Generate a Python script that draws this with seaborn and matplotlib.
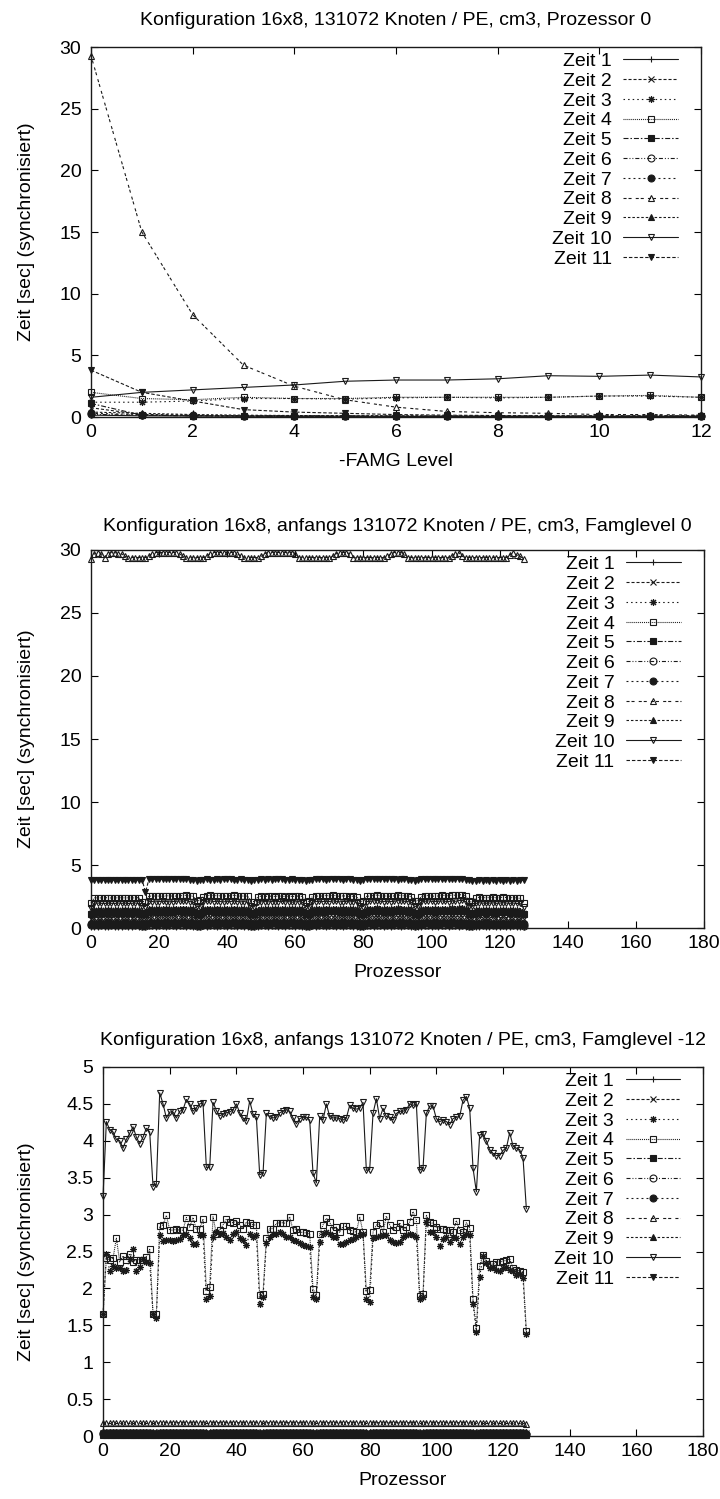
import matplotlib
matplotlib.use('Agg')
from matplotlib import pyplot as plt
from matplotlib.ticker import FuncFormatter
import seaborn as sns

sns.set_theme(context='paper', style='ticks')
plt.rcParams['font.family'] = ['Liberation Sans', 'DejaVu Sans']
plt.rcParams['lines.scale_dashes'] = False
plt.rcParams['text.color'] = 'black'
plt.rcParams['axes.labelcolor'] = 'black'
plt.rcParams['xtick.color'] = 'black'
plt.rcParams['ytick.color'] = 'black'
plt.rcParams['axes.edgecolor'] = 'black'

labels = ['Zeit %d' % i for i in range(1, 12)]

#panel 1: processor 0 over FAMG level
levels = [0, 1, 2, 3, 4, 5, 6, 7, 8, 9, 10, 11, 12]
p1_z1 = [0.15, 0.1, 0.08, 0.07, 0.06, 0.06, 0.05, 0.05, 0.05, 0.05, 0.05, 0.05, 0.05]
p1_z2 = [0.75, 0.2, 0.12, 0.09, 0.08, 0.07, 0.06, 0.06, 0.05, 0.05, 0.05, 0.05, 0.05]
p1_z3 = [1.2, 1.2, 1.3, 1.5, 1.5, 1.45, 1.55, 1.6, 1.55, 1.6, 1.7, 1.7, 1.6]
p1_z4 = [2.0, 1.5, 1.4, 1.6, 1.5, 1.5, 1.6, 1.6, 1.6, 1.6, 1.7, 1.75, 1.6]
p1_z5 = [1.1, 0.15, 0.1, 0.08, 0.07, 0.06, 0.05, 0.05, 0.05, 0.05, 0.05, 0.05, 0.05]
p1_z6 = [0.22, 0.15, 0.1, 0.08, 0.07, 0.06, 0.06, 0.05, 0.05, 0.05, 0.05, 0.05, 0.05]
p1_z7 = [0.3, 0.2, 0.15, 0.1, 0.08, 0.07, 0.06, 0.06, 0.05, 0.05, 0.05, 0.05, 0.05]
p1_z8 = [29.3, 15.0, 8.3, 4.2, 2.5, 1.4, 0.8, 0.45, 0.35, 0.3, 0.2, 0.2, 0.15]
p1_z9 = [0.4, 0.3, 0.2, 0.15, 0.12, 0.1, 0.1, 0.08, 0.08, 0.08, 0.08, 0.08, 0.08]
p1_z10 = [1.6, 2.0, 2.2, 2.4, 2.6, 2.9, 3.0, 3.0, 3.1, 3.35, 3.3, 3.4, 3.25]
p1_z11 = [3.8, 2.0, 1.3, 0.6, 0.4, 0.3, 0.2, 0.15, 0.12, 0.1, 0.1, 0.1, 0.1]

procs = list(range(128))

#panel 2: famglevel 0 over processors
p2_z1 = [0.1, 0.12, 0.12, 0.13, 0.12, 0.12, 0.13, 0.12, 0.12, 0.12, 0.13, 0.12, 0.12, 0.13, 0.12, 0.1,
         0.1, 0.13, 0.13, 0.12, 0.13, 0.13, 0.12, 0.13, 0.13, 0.12, 0.13, 0.13, 0.12, 0.13, 0.12, 0.1,
         0.1, 0.13, 0.12, 0.13, 0.13, 0.12, 0.13, 0.13, 0.12, 0.13, 0.13, 0.12, 0.13, 0.12, 0.12, 0.1,
         0.1, 0.12, 0.13, 0.13, 0.12, 0.13, 0.13, 0.12, 0.13, 0.12, 0.13, 0.13, 0.12, 0.13, 0.12, 0.1,
         0.1, 0.13, 0.12, 0.13, 0.13, 0.12, 0.13, 0.13, 0.12, 0.13, 0.12, 0.13, 0.13, 0.12, 0.12, 0.1,
         0.1, 0.13, 0.13, 0.12, 0.13, 0.13, 0.12, 0.13, 0.12, 0.13, 0.13, 0.12, 0.13, 0.13, 0.12, 0.1,
         0.1, 0.12, 0.13, 0.13, 0.12, 0.13, 0.12, 0.13, 0.13, 0.12, 0.13, 0.13, 0.12, 0.13, 0.12, 0.1,
         0.1, 0.12, 0.12, 0.13, 0.12, 0.12, 0.13, 0.12, 0.12, 0.13, 0.12, 0.12, 0.13, 0.12, 0.12, 0.1]
p2_z2 = [0.75, 0.82, 0.83, 0.82, 0.83, 0.82, 0.83, 0.82, 0.83, 0.82, 0.83, 0.82, 0.83, 0.82, 0.82, 0.72,
         0.7, 0.86, 0.87, 0.86, 0.87, 0.86, 0.87, 0.88, 0.86, 0.87, 0.88, 0.87, 0.88, 0.86, 0.85, 0.72,
         0.72, 0.86, 0.87, 0.88, 0.86, 0.87, 0.86, 0.87, 0.88, 0.86, 0.88, 0.87, 0.86, 0.87, 0.85, 0.72,
         0.7, 0.85, 0.86, 0.87, 0.86, 0.87, 0.86, 0.88, 0.87, 0.86, 0.87, 0.86, 0.87, 0.88, 0.85, 0.72,
         0.7, 0.86, 0.87, 0.88, 0.87, 0.88, 0.87, 0.89, 0.88, 0.86, 0.87, 0.86, 0.86, 0.87, 0.85, 0.72,
         0.72, 0.86, 0.88, 0.88, 0.9, 0.88, 0.87, 0.88, 0.86, 0.88, 0.9, 0.89, 0.87, 0.86, 0.85, 0.72,
         0.73, 0.86, 0.88, 0.88, 0.87, 0.86, 0.88, 0.89, 0.88, 0.87, 0.9, 0.89, 0.9, 0.91, 0.87, 0.73,
         0.7, 0.82, 0.84, 0.83, 0.82, 0.83, 0.84, 0.82, 0.83, 0.84, 0.83, 0.82, 0.83, 0.82, 0.81, 0.72]
p2_z3 = [1.2, 1.4, 1.42, 1.4, 1.41, 1.4, 1.42, 1.41, 1.4, 1.42, 1.41, 1.4, 1.42, 1.41, 1.4, 1.28,
         1.25, 1.48, 1.5, 1.49, 1.5, 1.48, 1.5, 1.51, 1.49, 1.5, 1.52, 1.5, 1.53, 1.5, 1.48, 1.28,
         1.28, 1.48, 1.51, 1.53, 1.5, 1.52, 1.5, 1.49, 1.51, 1.5, 1.53, 1.5, 1.48, 1.5, 1.48, 1.26,
         1.25, 1.47, 1.49, 1.5, 1.49, 1.5, 1.49, 1.51, 1.5, 1.49, 1.5, 1.48, 1.5, 1.51, 1.48, 1.26,
         1.25, 1.49, 1.5, 1.52, 1.5, 1.53, 1.51, 1.54, 1.52, 1.5, 1.51, 1.5, 1.49, 1.5, 1.48, 1.27,
         1.27, 1.5, 1.52, 1.53, 1.55, 1.52, 1.5, 1.52, 1.5, 1.52, 1.55, 1.53, 1.51, 1.5, 1.48, 1.28,
         1.28, 1.49, 1.52, 1.53, 1.52, 1.5, 1.52, 1.54, 1.53, 1.52, 1.55, 1.54, 1.56, 1.57, 1.52, 1.29,
         1.25, 1.4, 1.44, 1.42, 1.41, 1.42, 1.43, 1.41, 1.42, 1.43, 1.42, 1.41, 1.42, 1.4, 1.39, 1.22]
p2_z4 = [2.0, 2.38, 2.4, 2.39, 2.41, 2.4, 2.38, 2.39, 2.4, 2.41, 2.39, 2.4, 2.38, 2.4, 2.41, 2.1,
         2.1, 2.52, 2.55, 2.53, 2.54, 2.52, 2.55, 2.56, 2.53, 2.54, 2.58, 2.56, 2.6, 2.55, 2.52, 2.15,
         2.2, 2.5, 2.56, 2.6, 2.55, 2.58, 2.55, 2.53, 2.55, 2.56, 2.6, 2.55, 2.52, 2.55, 2.53, 2.1,
         2.1, 2.48, 2.52, 2.5, 2.53, 2.52, 2.5, 2.54, 2.52, 2.5, 2.53, 2.5, 2.52, 2.54, 2.5, 2.1,
         2.12, 2.5, 2.52, 2.55, 2.53, 2.58, 2.55, 2.6, 2.56, 2.52, 2.55, 2.54, 2.5, 2.52, 2.5, 2.1,
         2.15, 2.52, 2.55, 2.58, 2.62, 2.55, 2.53, 2.55, 2.52, 2.55, 2.62, 2.58, 2.55, 2.53, 2.5, 2.12,
         2.18, 2.5, 2.55, 2.58, 2.55, 2.52, 2.55, 2.6, 2.58, 2.55, 2.62, 2.6, 2.63, 2.65, 2.55, 2.12,
         2.05, 2.38, 2.45, 2.42, 2.4, 2.42, 2.44, 2.4, 2.42, 2.44, 2.42, 2.4, 2.42, 2.38, 2.36, 2.0]
p2_z5 = [1.1, 1.22, 1.24, 1.22, 1.23, 1.22, 1.24, 1.22, 1.23, 1.22, 1.24, 1.23, 1.22, 1.24, 1.22, 1.12,
         1.1, 1.3, 1.32, 1.3, 1.31, 1.3, 1.32, 1.31, 1.3, 1.32, 1.33, 1.31, 1.34, 1.31, 1.3, 1.14,
         1.12, 1.3, 1.32, 1.34, 1.31, 1.33, 1.31, 1.3, 1.32, 1.31, 1.34, 1.31, 1.3, 1.31, 1.3, 1.12,
         1.1, 1.28, 1.3, 1.31, 1.3, 1.31, 1.3, 1.32, 1.31, 1.3, 1.31, 1.3, 1.31, 1.32, 1.3, 1.12,
         1.1, 1.3, 1.31, 1.33, 1.31, 1.34, 1.32, 1.35, 1.33, 1.31, 1.32, 1.31, 1.3, 1.31, 1.3, 1.12,
         1.12, 1.31, 1.33, 1.34, 1.36, 1.33, 1.31, 1.33, 1.31, 1.33, 1.36, 1.34, 1.32, 1.31, 1.3, 1.13,
         1.14, 1.3, 1.33, 1.34, 1.33, 1.31, 1.33, 1.35, 1.34, 1.33, 1.36, 1.35, 1.37, 1.38, 1.33, 1.14,
         1.1, 1.22, 1.26, 1.24, 1.23, 1.24, 1.25, 1.23, 1.24, 1.25, 1.24, 1.23, 1.24, 1.22, 1.21, 1.1]
p2_z6 = [0.22, 0.24, 0.25, 0.24, 0.24, 0.25, 0.24, 0.24, 0.25, 0.24, 0.24, 0.25, 0.24, 0.24, 0.24, 0.2,
         0.2, 0.26, 0.26, 0.25, 0.26, 0.26, 0.25, 0.26, 0.26, 0.25, 0.26, 0.26, 0.27, 0.26, 0.25, 0.2,
         0.2, 0.26, 0.25, 0.26, 0.26, 0.25, 0.26, 0.26, 0.25, 0.26, 0.27, 0.26, 0.25, 0.26, 0.25, 0.2,
         0.2, 0.25, 0.26, 0.26, 0.25, 0.26, 0.26, 0.25, 0.26, 0.25, 0.26, 0.26, 0.25, 0.26, 0.25, 0.2,
         0.2, 0.26, 0.25, 0.26, 0.26, 0.27, 0.26, 0.27, 0.26, 0.25, 0.26, 0.26, 0.25, 0.26, 0.25, 0.2,
         0.2, 0.26, 0.26, 0.27, 0.27, 0.26, 0.26, 0.26, 0.25, 0.26, 0.27, 0.27, 0.26, 0.26, 0.25, 0.2,
         0.21, 0.26, 0.26, 0.27, 0.26, 0.26, 0.26, 0.27, 0.27, 0.26, 0.27, 0.27, 0.27, 0.28, 0.26, 0.2,
         0.2, 0.24, 0.25, 0.24, 0.24, 0.24, 0.25, 0.24, 0.24, 0.25, 0.24, 0.24, 0.25, 0.24, 0.24, 0.2]
p2_z7 = [0.3, 0.34, 0.35, 0.34, 0.34, 0.35, 0.34, 0.34, 0.35, 0.34, 0.34, 0.35, 0.34, 0.34, 0.34, 0.3,
         0.29, 0.37, 0.37, 0.36, 0.37, 0.37, 0.36, 0.37, 0.37, 0.36, 0.37, 0.37, 0.38, 0.37, 0.36, 0.3,
         0.3, 0.37, 0.36, 0.37, 0.37, 0.36, 0.37, 0.37, 0.36, 0.37, 0.38, 0.37, 0.36, 0.37, 0.36, 0.3,
         0.29, 0.36, 0.37, 0.37, 0.36, 0.37, 0.37, 0.36, 0.37, 0.36, 0.37, 0.37, 0.36, 0.37, 0.36, 0.3,
         0.29, 0.37, 0.36, 0.37, 0.37, 0.38, 0.37, 0.38, 0.37, 0.36, 0.37, 0.37, 0.36, 0.37, 0.36, 0.3,
         0.3, 0.37, 0.37, 0.38, 0.38, 0.37, 0.37, 0.37, 0.36, 0.37, 0.38, 0.38, 0.37, 0.37, 0.36, 0.3,
         0.3, 0.37, 0.37, 0.38, 0.37, 0.37, 0.37, 0.38, 0.38, 0.37, 0.38, 0.38, 0.38, 0.39, 0.37, 0.3,
         0.29, 0.34, 0.35, 0.34, 0.34, 0.34, 0.35, 0.34, 0.34, 0.35, 0.34, 0.34, 0.35, 0.34, 0.34, 0.3]
p2_z8 = [29.3, 29.7, 29.8, 29.7, 29.4, 29.7, 29.8, 29.8, 29.7, 29.7, 29.5, 29.4, 29.4, 29.4, 29.4, 29.4,
         29.4, 29.5, 29.7, 29.8, 29.8, 29.8, 29.8, 29.8, 29.8, 29.8, 29.7, 29.5, 29.4, 29.4, 29.4, 29.4,
         29.4, 29.4, 29.5, 29.7, 29.8, 29.8, 29.8, 29.8, 29.8, 29.8, 29.8, 29.7, 29.5, 29.4, 29.4, 29.4,
         29.4, 29.4, 29.5, 29.7, 29.8, 29.8, 29.8, 29.8, 29.8, 29.8, 29.8, 29.8, 29.7, 29.4, 29.4, 29.4,
         29.4, 29.4, 29.4, 29.4, 29.4, 29.4, 29.4, 29.5, 29.7, 29.8, 29.8, 29.8, 29.7, 29.4, 29.4, 29.4,
         29.4, 29.4, 29.4, 29.4, 29.4, 29.4, 29.4, 29.5, 29.7, 29.8, 29.8, 29.8, 29.7, 29.4, 29.4, 29.4,
         29.4, 29.4, 29.4, 29.4, 29.4, 29.4, 29.4, 29.4, 29.4, 29.4, 29.5, 29.7, 29.8, 29.5, 29.4, 29.4,
         29.4, 29.4, 29.4, 29.4, 29.4, 29.4, 29.4, 29.4, 29.4, 29.4, 29.4, 29.6, 29.8, 29.6, 29.5, 29.3]
p2_z9 = [0.4, 0.45, 0.46, 0.45, 0.45, 0.46, 0.45, 0.45, 0.46, 0.45, 0.45, 0.46, 0.45, 0.45, 0.45, 0.4,
         0.39, 0.48, 0.48, 0.47, 0.48, 0.48, 0.47, 0.48, 0.48, 0.47, 0.48, 0.48, 0.49, 0.48, 0.47, 0.4,
         0.4, 0.48, 0.47, 0.48, 0.48, 0.47, 0.48, 0.48, 0.47, 0.48, 0.49, 0.48, 0.47, 0.48, 0.47, 0.4,
         0.39, 0.47, 0.48, 0.48, 0.47, 0.48, 0.48, 0.47, 0.48, 0.47, 0.48, 0.48, 0.47, 0.48, 0.47, 0.4,
         0.39, 0.48, 0.47, 0.48, 0.48, 0.49, 0.48, 0.49, 0.48, 0.47, 0.48, 0.48, 0.47, 0.48, 0.47, 0.4,
         0.4, 0.48, 0.48, 0.49, 0.49, 0.48, 0.48, 0.48, 0.47, 0.48, 0.49, 0.49, 0.48, 0.48, 0.47, 0.4,
         0.4, 0.48, 0.48, 0.49, 0.48, 0.48, 0.48, 0.49, 0.49, 0.48, 0.49, 0.49, 0.49, 0.5, 0.48, 0.4,
         0.39, 0.45, 0.46, 0.45, 0.45, 0.45, 0.46, 0.45, 0.45, 0.46, 0.45, 0.45, 0.46, 0.45, 0.45, 0.4]
p2_z10 = [1.6, 2.0, 1.98, 1.96, 1.95, 1.97, 1.96, 1.95, 1.98, 1.96, 1.97, 1.95, 1.96, 1.98, 1.95, 1.75,
          1.7, 2.12, 2.1, 2.08, 2.1, 2.12, 2.1, 2.08, 2.1, 2.12, 2.15, 2.12, 2.18, 2.1, 2.05, 1.72,
          1.7, 2.08, 2.12, 2.15, 2.1, 2.12, 2.1, 2.08, 2.12, 2.1, 2.15, 2.1, 2.08, 2.1, 2.05, 1.72,
          1.68, 2.05, 2.08, 2.1, 2.08, 2.1, 2.08, 2.1, 2.12, 2.08, 2.1, 2.05, 2.08, 2.1, 2.05, 1.72,
          1.68, 2.08, 2.1, 2.12, 2.1, 2.12, 2.1, 2.15, 2.12, 2.08, 2.1, 2.12, 2.08, 2.1, 2.05, 1.72,
          1.7, 2.1, 2.12, 2.15, 2.18, 2.12, 2.1, 2.12, 2.1, 2.12, 2.18, 2.15, 2.12, 2.1, 2.05, 1.72,
          1.72, 2.08, 2.12, 2.15, 2.12, 2.1, 2.12, 2.15, 2.12, 2.1, 2.15, 2.12, 2.18, 2.2, 2.1, 1.75,
          1.72, 1.95, 2.0, 1.98, 1.96, 1.98, 2.0, 1.96, 1.98, 2.0, 1.98, 1.96, 1.98, 1.95, 1.95, 1.65]
p2_z11 = [3.8, 3.8, 3.79, 3.8, 3.8, 3.79, 3.8, 3.8, 3.8, 3.79, 3.8, 3.8, 3.8, 3.79, 3.8, 3.82,
          2.85, 3.86, 3.88, 3.87, 3.86, 3.88, 3.87, 3.86, 3.88, 3.87, 3.86, 3.88, 3.87, 3.85, 3.82, 3.75,
          3.78, 3.84, 3.86, 3.85, 3.84, 3.86, 3.85, 3.86, 3.87, 3.86, 3.85, 3.84, 3.86, 3.85, 3.82, 3.74,
          3.78, 3.84, 3.86, 3.85, 3.86, 3.85, 3.86, 3.87, 3.86, 3.85, 3.84, 3.86, 3.85, 3.84, 3.82, 3.75,
          3.78, 3.84, 3.86, 3.87, 3.86, 3.85, 3.86, 3.87, 3.88, 3.86, 3.85, 3.86, 3.87, 3.85, 3.82, 3.76,
          3.8, 3.86, 3.87, 3.88, 3.86, 3.87, 3.86, 3.87, 3.88, 3.86, 3.85, 3.86, 3.87, 3.85, 3.82, 3.76,
          3.8, 3.86, 3.87, 3.86, 3.87, 3.88, 3.87, 3.86, 3.87, 3.88, 3.87, 3.86, 3.87, 3.88, 3.85, 3.78,
          3.76, 3.77, 3.78, 3.77, 3.78, 3.77, 3.78, 3.77, 3.78, 3.77, 3.78, 3.77, 3.78, 3.77, 3.78, 3.8]

#panel 3: famglevel -12 over processors
p3_z1 = [0.03, 0.03, 0.03, 0.03, 0.03, 0.03, 0.03, 0.03, 0.03, 0.03, 0.03, 0.03, 0.03, 0.03, 0.03, 0.02,
         0.02, 0.03, 0.03, 0.03, 0.03, 0.03, 0.03, 0.03, 0.03, 0.03, 0.03, 0.03, 0.03, 0.03, 0.03, 0.02,
         0.02, 0.03, 0.03, 0.03, 0.03, 0.03, 0.03, 0.03, 0.03, 0.03, 0.03, 0.03, 0.03, 0.03, 0.03, 0.02,
         0.02, 0.03, 0.03, 0.03, 0.03, 0.03, 0.03, 0.03, 0.03, 0.03, 0.03, 0.03, 0.03, 0.03, 0.03, 0.02,
         0.02, 0.03, 0.03, 0.03, 0.03, 0.03, 0.03, 0.03, 0.03, 0.03, 0.03, 0.03, 0.03, 0.03, 0.03, 0.02,
         0.02, 0.03, 0.03, 0.03, 0.03, 0.03, 0.03, 0.03, 0.03, 0.03, 0.03, 0.03, 0.03, 0.03, 0.03, 0.02,
         0.02, 0.03, 0.03, 0.03, 0.03, 0.03, 0.03, 0.03, 0.03, 0.03, 0.03, 0.03, 0.03, 0.03, 0.03, 0.02,
         0.02, 0.03, 0.03, 0.03, 0.03, 0.03, 0.03, 0.03, 0.03, 0.03, 0.03, 0.03, 0.03, 0.03, 0.03, 0.02]
p3_z2 = [0.04, 0.05, 0.05, 0.05, 0.05, 0.05, 0.05, 0.05, 0.05, 0.05, 0.05, 0.05, 0.05, 0.05, 0.05, 0.04,
         0.04, 0.05, 0.05, 0.05, 0.05, 0.05, 0.05, 0.05, 0.05, 0.05, 0.05, 0.05, 0.05, 0.05, 0.05, 0.04,
         0.04, 0.05, 0.05, 0.05, 0.05, 0.05, 0.05, 0.05, 0.05, 0.05, 0.05, 0.05, 0.05, 0.05, 0.05, 0.04,
         0.04, 0.05, 0.05, 0.05, 0.05, 0.05, 0.05, 0.05, 0.05, 0.05, 0.05, 0.05, 0.05, 0.05, 0.05, 0.04,
         0.04, 0.05, 0.05, 0.05, 0.05, 0.05, 0.05, 0.05, 0.05, 0.05, 0.05, 0.05, 0.05, 0.05, 0.05, 0.04,
         0.04, 0.05, 0.05, 0.05, 0.05, 0.05, 0.05, 0.05, 0.05, 0.05, 0.05, 0.05, 0.05, 0.05, 0.05, 0.04,
         0.04, 0.05, 0.05, 0.05, 0.05, 0.05, 0.05, 0.05, 0.05, 0.05, 0.05, 0.05, 0.05, 0.05, 0.05, 0.04,
         0.04, 0.05, 0.05, 0.05, 0.05, 0.05, 0.05, 0.05, 0.05, 0.05, 0.05, 0.05, 0.05, 0.05, 0.05, 0.04]
p3_z3 = [1.65, 2.47, 2.24, 2.3, 2.27, 2.28, 2.23, 2.25, 2.4, 2.54, 2.23, 2.29, 2.4, 2.36, 2.34, 1.65,
         1.6, 2.72, 2.64, 2.66, 2.66, 2.64, 2.66, 2.67, 2.72, 2.74, 2.68, 2.6, 2.6, 2.72, 2.72, 1.85,
         1.9, 2.7, 2.76, 2.74, 2.75, 2.7, 2.66, 2.74, 2.76, 2.68, 2.66, 2.59, 2.74, 2.69, 2.73, 1.79,
         1.88, 2.61, 2.7, 2.74, 2.74, 2.76, 2.74, 2.7, 2.7, 2.66, 2.64, 2.61, 2.59, 2.57, 2.56, 1.88,
         1.85, 2.63, 2.74, 2.77, 2.74, 2.7, 2.69, 2.6, 2.6, 2.63, 2.66, 2.67, 2.7, 2.72, 2.74, 1.85,
         1.82, 2.68, 2.7, 2.71, 2.72, 2.72, 2.66, 2.63, 2.61, 2.63, 2.7, 2.72, 2.74, 2.72, 2.7, 1.85,
         1.88, 2.9, 2.76, 2.76, 2.7, 2.57, 2.67, 2.7, 2.63, 2.7, 2.68, 2.6, 2.7, 2.74, 2.72, 1.79,
         1.41, 2.16, 2.44, 2.35, 2.27, 2.29, 2.25, 2.23, 2.27, 2.29, 2.25, 2.23, 2.18, 2.2, 2.14, 1.38]
p3_z4 = [1.65, 2.41, 2.39, 2.41, 2.68, 2.36, 2.44, 2.39, 2.47, 2.36, 2.39, 2.39, 2.39, 2.43, 2.53, 1.65,
         1.65, 2.84, 2.86, 2.99, 2.79, 2.79, 2.8, 2.79, 2.79, 2.96, 2.83, 2.96, 2.8, 2.81, 2.94, 1.97,
         2.02, 2.97, 2.74, 2.79, 2.86, 2.94, 2.9, 2.89, 2.92, 2.86, 2.81, 2.9, 2.88, 2.86, 2.86, 1.91,
         1.93, 2.68, 2.81, 2.81, 2.88, 2.89, 2.89, 2.88, 2.97, 2.79, 2.81, 2.76, 2.76, 2.75, 2.74, 1.99,
         1.91, 2.74, 2.86, 2.95, 2.9, 2.79, 2.83, 2.76, 2.84, 2.84, 2.79, 2.78, 2.76, 2.97, 2.76, 1.96,
         1.98, 2.76, 2.86, 2.88, 2.76, 2.98, 2.86, 2.79, 2.83, 2.89, 2.79, 2.83, 2.9, 3.04, 2.93, 1.9,
         1.92, 2.99, 2.9, 2.88, 2.83, 2.81, 2.81, 2.79, 2.79, 2.76, 2.92, 2.79, 2.76, 2.89, 2.82, 1.86,
         1.46, 2.31, 2.45, 2.37, 2.33, 2.33, 2.36, 2.36, 2.37, 2.38, 2.4, 2.27, 2.25, 2.24, 2.22, 1.42]
p3_z5 = [0.02, 0.02, 0.02, 0.02, 0.02, 0.02, 0.02, 0.02, 0.02, 0.02, 0.02, 0.02, 0.02, 0.02, 0.02, 0.02,
         0.02, 0.02, 0.02, 0.02, 0.02, 0.02, 0.02, 0.02, 0.02, 0.02, 0.02, 0.02, 0.02, 0.02, 0.02, 0.02,
         0.02, 0.02, 0.02, 0.02, 0.02, 0.02, 0.02, 0.02, 0.02, 0.02, 0.02, 0.02, 0.02, 0.02, 0.02, 0.02,
         0.02, 0.02, 0.02, 0.02, 0.02, 0.02, 0.02, 0.02, 0.02, 0.02, 0.02, 0.02, 0.02, 0.02, 0.02, 0.02,
         0.02, 0.02, 0.02, 0.02, 0.02, 0.02, 0.02, 0.02, 0.02, 0.02, 0.02, 0.02, 0.02, 0.02, 0.02, 0.02,
         0.02, 0.02, 0.02, 0.02, 0.02, 0.02, 0.02, 0.02, 0.02, 0.02, 0.02, 0.02, 0.02, 0.02, 0.02, 0.02,
         0.02, 0.02, 0.02, 0.02, 0.02, 0.02, 0.02, 0.02, 0.02, 0.02, 0.02, 0.02, 0.02, 0.02, 0.02, 0.02,
         0.02, 0.02, 0.02, 0.02, 0.02, 0.02, 0.02, 0.02, 0.02, 0.02, 0.02, 0.02, 0.02, 0.02, 0.02, 0.02]
p3_z6 = [0.04, 0.04, 0.04, 0.04, 0.04, 0.04, 0.04, 0.04, 0.04, 0.04, 0.04, 0.04, 0.04, 0.04, 0.04, 0.03,
         0.03, 0.04, 0.04, 0.04, 0.04, 0.04, 0.04, 0.04, 0.04, 0.04, 0.04, 0.04, 0.04, 0.04, 0.04, 0.03,
         0.03, 0.04, 0.04, 0.04, 0.04, 0.04, 0.04, 0.04, 0.04, 0.04, 0.04, 0.04, 0.04, 0.04, 0.04, 0.03,
         0.03, 0.04, 0.04, 0.04, 0.04, 0.04, 0.04, 0.04, 0.04, 0.04, 0.04, 0.04, 0.04, 0.04, 0.04, 0.03,
         0.03, 0.04, 0.04, 0.04, 0.04, 0.04, 0.04, 0.04, 0.04, 0.04, 0.04, 0.04, 0.04, 0.04, 0.04, 0.03,
         0.03, 0.04, 0.04, 0.04, 0.04, 0.04, 0.04, 0.04, 0.04, 0.04, 0.04, 0.04, 0.04, 0.04, 0.04, 0.03,
         0.03, 0.04, 0.04, 0.04, 0.04, 0.04, 0.04, 0.04, 0.04, 0.04, 0.04, 0.04, 0.04, 0.04, 0.04, 0.03,
         0.03, 0.04, 0.04, 0.04, 0.04, 0.04, 0.04, 0.04, 0.04, 0.04, 0.04, 0.04, 0.04, 0.04, 0.04, 0.03]
p3_z7 = [0.03, 0.03, 0.03, 0.03, 0.03, 0.03, 0.03, 0.03, 0.03, 0.03, 0.03, 0.03, 0.03, 0.03, 0.03, 0.03,
         0.03, 0.03, 0.03, 0.03, 0.03, 0.03, 0.03, 0.03, 0.03, 0.03, 0.03, 0.03, 0.03, 0.03, 0.03, 0.03,
         0.03, 0.03, 0.03, 0.03, 0.03, 0.03, 0.03, 0.03, 0.03, 0.03, 0.03, 0.03, 0.03, 0.03, 0.03, 0.03,
         0.03, 0.03, 0.03, 0.03, 0.03, 0.03, 0.03, 0.03, 0.03, 0.03, 0.03, 0.03, 0.03, 0.03, 0.03, 0.03,
         0.03, 0.03, 0.03, 0.03, 0.03, 0.03, 0.03, 0.03, 0.03, 0.03, 0.03, 0.03, 0.03, 0.03, 0.03, 0.03,
         0.03, 0.03, 0.03, 0.03, 0.03, 0.03, 0.03, 0.03, 0.03, 0.03, 0.03, 0.03, 0.03, 0.03, 0.03, 0.03,
         0.03, 0.03, 0.03, 0.03, 0.03, 0.03, 0.03, 0.03, 0.03, 0.03, 0.03, 0.03, 0.03, 0.03, 0.03, 0.03,
         0.03, 0.03, 0.03, 0.03, 0.03, 0.03, 0.03, 0.03, 0.03, 0.03, 0.03, 0.03, 0.03, 0.03, 0.03, 0.03]
p3_z8 = [0.17, 0.17, 0.17, 0.17, 0.17, 0.17, 0.17, 0.17, 0.17, 0.17, 0.17, 0.17, 0.17, 0.17, 0.17, 0.17,
         0.17, 0.18, 0.18, 0.18, 0.18, 0.18, 0.18, 0.18, 0.18, 0.18, 0.18, 0.18, 0.18, 0.18, 0.18, 0.17,
         0.17, 0.18, 0.18, 0.18, 0.18, 0.18, 0.18, 0.18, 0.18, 0.18, 0.18, 0.18, 0.18, 0.18, 0.18, 0.17,
         0.17, 0.18, 0.18, 0.18, 0.18, 0.18, 0.18, 0.18, 0.18, 0.18, 0.18, 0.18, 0.18, 0.18, 0.18, 0.17,
         0.17, 0.18, 0.18, 0.18, 0.18, 0.18, 0.18, 0.18, 0.18, 0.18, 0.18, 0.18, 0.18, 0.18, 0.18, 0.17,
         0.17, 0.18, 0.18, 0.18, 0.18, 0.18, 0.18, 0.18, 0.18, 0.18, 0.18, 0.18, 0.18, 0.18, 0.18, 0.17,
         0.17, 0.18, 0.18, 0.18, 0.18, 0.18, 0.18, 0.18, 0.18, 0.18, 0.18, 0.18, 0.18, 0.18, 0.18, 0.17,
         0.17, 0.17, 0.17, 0.17, 0.17, 0.17, 0.17, 0.17, 0.17, 0.17, 0.17, 0.17, 0.17, 0.17, 0.17, 0.16]
p3_z9 = [0.06, 0.06, 0.06, 0.06, 0.06, 0.06, 0.06, 0.06, 0.06, 0.06, 0.06, 0.06, 0.06, 0.06, 0.06, 0.05,
         0.05, 0.06, 0.06, 0.06, 0.06, 0.06, 0.06, 0.06, 0.06, 0.06, 0.06, 0.06, 0.06, 0.06, 0.06, 0.05,
         0.05, 0.06, 0.06, 0.06, 0.06, 0.06, 0.06, 0.06, 0.06, 0.06, 0.06, 0.06, 0.06, 0.06, 0.06, 0.05,
         0.05, 0.06, 0.06, 0.06, 0.06, 0.06, 0.06, 0.06, 0.06, 0.06, 0.06, 0.06, 0.06, 0.06, 0.06, 0.05,
         0.05, 0.06, 0.06, 0.06, 0.06, 0.06, 0.06, 0.06, 0.06, 0.06, 0.06, 0.06, 0.06, 0.06, 0.06, 0.05,
         0.05, 0.06, 0.06, 0.06, 0.06, 0.06, 0.06, 0.06, 0.06, 0.06, 0.06, 0.06, 0.06, 0.06, 0.06, 0.05,
         0.05, 0.06, 0.06, 0.06, 0.06, 0.06, 0.06, 0.06, 0.06, 0.06, 0.06, 0.06, 0.06, 0.06, 0.06, 0.05,
         0.05, 0.06, 0.06, 0.06, 0.06, 0.06, 0.06, 0.06, 0.06, 0.06, 0.06, 0.06, 0.06, 0.06, 0.06, 0.05]
p3_z10 = [3.25, 4.26, 4.15, 4.12, 4.02, 4.0, 3.9, 4.02, 4.1, 4.19, 4.05, 3.96, 4.05, 4.17, 4.12, 3.38,
          3.42, 4.65, 4.5, 4.31, 4.39, 4.39, 4.31, 4.4, 4.42, 4.56, 4.5, 4.4, 4.45, 4.5, 4.51, 3.64,
          3.64, 4.52, 4.41, 4.34, 4.36, 4.38, 4.39, 4.42, 4.5, 4.38, 4.31, 4.27, 4.54, 4.36, 4.32, 3.54,
          3.56, 4.37, 4.33, 4.31, 4.32, 4.38, 4.4, 4.42, 4.4, 4.31, 4.23, 4.3, 4.32, 4.32, 4.28, 3.56,
          3.43, 4.33, 4.28, 4.5, 4.33, 4.31, 4.31, 4.3, 4.28, 4.31, 4.48, 4.44, 4.43, 4.44, 4.52, 3.6,
          3.61, 4.37, 4.57, 4.3, 4.44, 4.33, 4.32, 4.28, 4.37, 4.4, 4.4, 4.42, 4.5, 4.48, 4.5, 3.6,
          3.63, 4.37, 4.47, 4.47, 4.3, 4.26, 4.28, 4.26, 4.22, 4.3, 4.32, 4.33, 4.55, 4.6, 4.44, 3.63,
          3.31, 4.08, 4.09, 4.0, 3.88, 3.83, 3.8, 3.8, 3.87, 3.9, 4.11, 3.93, 3.9, 3.88, 3.77, 3.08]
p3_z11 = [0.01, 0.01, 0.01, 0.01, 0.01, 0.01, 0.01, 0.01, 0.01, 0.01, 0.01, 0.01, 0.01, 0.01, 0.01, 0.01,
          0.01, 0.01, 0.01, 0.01, 0.01, 0.01, 0.01, 0.01, 0.01, 0.01, 0.01, 0.01, 0.01, 0.01, 0.01, 0.01,
          0.01, 0.01, 0.01, 0.01, 0.01, 0.01, 0.01, 0.01, 0.01, 0.01, 0.01, 0.01, 0.01, 0.01, 0.01, 0.01,
          0.01, 0.01, 0.01, 0.01, 0.01, 0.01, 0.01, 0.01, 0.01, 0.01, 0.01, 0.01, 0.01, 0.01, 0.01, 0.01,
          0.01, 0.01, 0.01, 0.01, 0.01, 0.01, 0.01, 0.01, 0.01, 0.01, 0.01, 0.01, 0.01, 0.01, 0.01, 0.01,
          0.01, 0.01, 0.01, 0.01, 0.01, 0.01, 0.01, 0.01, 0.01, 0.01, 0.01, 0.01, 0.01, 0.01, 0.01, 0.01,
          0.01, 0.01, 0.01, 0.01, 0.01, 0.01, 0.01, 0.01, 0.01, 0.01, 0.01, 0.01, 0.01, 0.01, 0.01, 0.01,
          0.01, 0.01, 0.01, 0.01, 0.01, 0.01, 0.01, 0.01, 0.01, 0.01, 0.01, 0.01, 0.01, 0.01, 0.01, 0.01]

#gnuplot-like monochrome styles (dash lengths in points)
markers = ['+', 'x', (8, 2, 0), 's', 's', 'o', 'o', '^', '^', 'v', 'v']
filled = [True, True, True, False, True, False, True, False, True, False, True]
linestyles = ['-', (0, (2.2, 1.4)), (0, (1.1, 2.2)), (0, (0.7, 0.7)), (0, (3.6, 1.4, 1.1, 1.4)),
              (0, (2.9, 1.4, 0.7, 1.4, 0.7, 1.4)), (0, (1.4, 2.2)), (0, (2.2, 1.4, 2.2, 3)),
              (0, (1.8, 1.4)), '-', (0, (2.5, 1.4))]

def draw(ax, x, series, xlim, xticks, ylim, yticks, title, xlabel, title_pad):
    for i, y in enumerate(series):
        sns.lineplot(x=x, y=y, ax=ax, color='k', linewidth=0.8, linestyle=linestyles[i],
                     marker=markers[i], markersize=5, markeredgecolor='k', markeredgewidth=0.8,
                     markerfacecolor='k' if filled[i] else 'none', label=labels[i],
                     errorbar=None, clip_on=False)
    ax.set_xlim(*xlim)
    ax.set_ylim(*ylim)
    ax.set_xticks(xticks)
    ax.set_yticks(yticks)
    ax.yaxis.set_major_formatter(FuncFormatter(lambda v, p: '%g' % v))
    ax.tick_params(direction='in', top=True, right=True, bottom=True, left=True,
                   length=5, width=0.8, labelsize=14)
    ax.tick_params(axis='y', pad=7)
    ax.tick_params(axis='x', pad=5)
    for s in ax.spines.values():
        s.set_linewidth(1.0)
        s.set_color('k')
    ax.set_title(title, fontsize=14, pad=title_pad)
    ax.set_xlabel(xlabel, fontsize=14, labelpad=9)
    ax.set_ylabel('Zeit [sec] (synchronisiert)', fontsize=14)
    ax.legend(loc='upper right', bbox_to_anchor=(0.962, 0.985), frameon=False, markerfirst=False,
              handlelength=2.8, handletextpad=0.6, labelspacing=0.11, borderpad=0,
              borderaxespad=0, numpoints=1, fontsize=14)

fig = plt.figure(figsize=(7.2, 14.99), dpi=100)

ax1 = fig.add_axes([0.1264, 0.7218, 0.8472, 0.2468])
draw(ax1, levels, [p1_z1, p1_z2, p1_z3, p1_z4, p1_z5, p1_z6, p1_z7, p1_z8, p1_z9, p1_z10, p1_z11],
     (0, 12), range(0, 13, 2), (0, 30), range(0, 31, 5),
     'Konfiguration 16x8, 131072 Knoten / PE, cm3, Prozessor 0', '-FAMG Level', 16)
ax1.yaxis.set_label_coords(-0.092, 0.5)

ax2 = fig.add_axes([0.1264, 0.3809, 0.8514, 0.2522])
draw(ax2, procs, [p2_z1, p2_z2, p2_z3, p2_z4, p2_z5, p2_z6, p2_z7, p2_z8, p2_z9, p2_z10, p2_z11],
     (0, 180), range(0, 181, 20), (0, 30), range(0, 31, 5),
     'Konfiguration 16x8, anfangs 131072 Knoten / PE, cm3, Famglevel 0', 'Prozessor', 14)
ax2.yaxis.set_label_coords(-0.092, 0.5)

ax3 = fig.add_axes([0.1431, 0.0420, 0.8333, 0.2462])
draw(ax3, procs, [p3_z1, p3_z2, p3_z3, p3_z4, p3_z5, p3_z6, p3_z7, p3_z8, p3_z9, p3_z10, p3_z11],
     (0, 180), range(0, 181, 20), (0, 5), [0, 0.5, 1, 1.5, 2, 2.5, 3, 3.5, 4, 4.5, 5],
     'Konfiguration 16x8, anfangs 131072 Knoten / PE, cm3, Famglevel -12', 'Prozessor', 16)
ax3.yaxis.set_label_coords(-0.113, 0.5)

fig.savefig('out.png', dpi=100)
